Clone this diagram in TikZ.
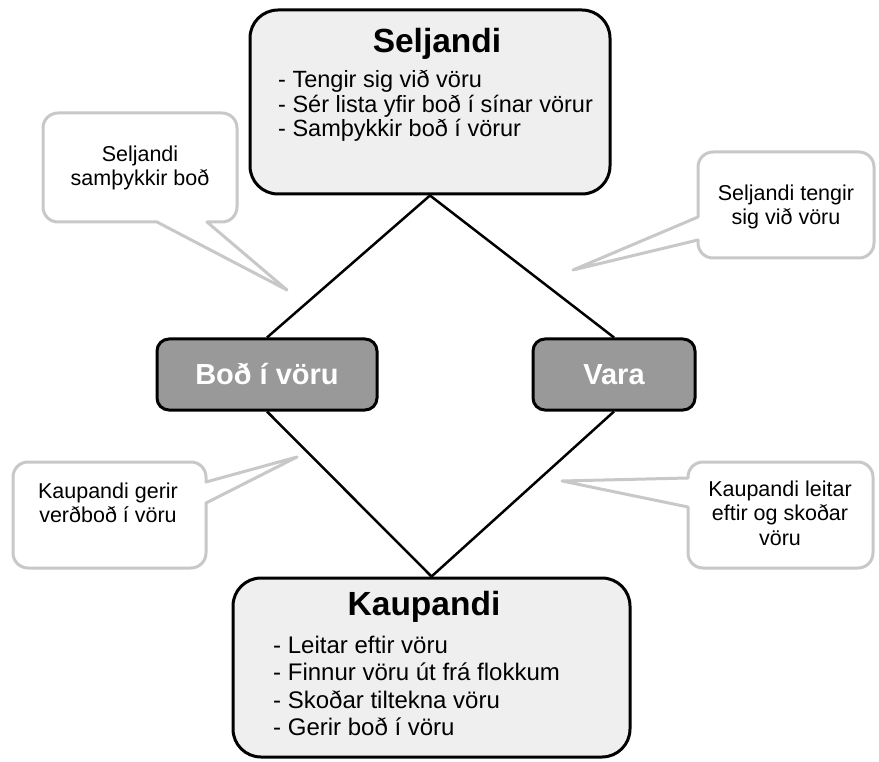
\documentclass[tikz,border=0pt]{standalone}
\usepackage{fontspec}
\setmainfont{Liberation Sans}
\definecolor{boxfill}{HTML}{EFEFEF}
\definecolor{midfill}{HTML}{999999}
\definecolor{calloutline}{HTML}{C8C8C8}
\begin{document}
\begin{tikzpicture}[x=1pt,y=-1pt,
  bigbox/.style={draw=black,line width=3pt,fill=boxfill,rounded corners=28pt,inner sep=0pt},
  midbox/.style={draw=black,line width=3pt,fill=midfill,rounded corners=12pt,inner sep=0pt,
     text=white,font=\fontsize{29}{34}\selectfont\bfseries},
  callout/.style={draw=calloutline,line width=3pt,fill=white,line join=round},
  link/.style={draw=black,line width=2.5pt},
  titletext/.style={anchor=base,inner sep=0pt,font=\fontsize{33.5}{40}\selectfont\bfseries},
  sbullet/.style={anchor=base west,inner sep=0pt,font=\fontsize{23.5}{27}\selectfont},
  kbullet/.style={anchor=base west,inner sep=0pt,font=\fontsize{24}{28}\selectfont},
  ctext/.style={align=center,inner sep=0pt,font=\fontsize{21.5}{24.5}\selectfont}
]
\useasboundingbox (0,0) rectangle (879,762);

% callouts
\coordinate (t1) at (287,290);
\coordinate (t2) at (573,270);
\coordinate (t3) at (297,457);
\coordinate (t4) at (562,481);
\draw[callout] (157,222) [rounded corners=15pt] -- (43,222) -- (43,113) -- (237,113) -- (237,222) [sharp corners] -- (207,222) -- (t1) -- cycle;
\draw[callout] (698,240) [rounded corners=15pt] -- (698,258) -- (874,258) -- (874,152) -- (698,152) [sharp corners] -- (698,217) -- (t2) -- cycle;
\draw[callout] (206,503) [rounded corners=15pt] -- (206,568) -- (13,568) -- (13,462) -- (206,462) [sharp corners] -- (206,482) -- (t3) -- cycle;
\draw[callout] (688,478) [rounded corners=15pt] -- (688,462) -- (873,462) -- (873,568) -- (688,568) [sharp corners] -- (688,507) -- (t4) -- cycle;

\node[ctext] (c1) at (140,168) {Seljandi\\samþykkir boð};
\node[ctext] (c2) at (786,207) {Seljandi tengir\\sig við vöru};
\node[ctext] (c3) at (108,503) {Kaupandi gerir\\verðboð í vöru};
\node[ctext] (c4) at (780,513) {Kaupandi leitar\\eftir og skoðar\\vöru};

% main boxes
\node[bigbox,minimum width=360pt,minimum height=184pt] (S) at (430,102) {};
\node[bigbox,minimum width=397pt,minimum height=179pt] (K) at (431.5,667.5) {};
\node[midbox,minimum width=220pt,minimum height=71pt] (B) at (267,374.5) {Boð í vöru};
\node[midbox,minimum width=162pt,minimum height=71pt] (V) at (614,374.5) {Vara};

% links
\draw[link] (S.south) -- (B.north);
\draw[link] (S.south) -- (V.north);
\draw[link] (B.south) -- (K.north);
\draw[link] (V.south) -- (K.north);

% Seljandi text
\node[titletext] (St) at (437,53) {Seljandi};
\node[sbullet] (s1) at (278,88) {- Tengir sig við vöru};
\node[sbullet] (s2) at (278,112.5) {- Sér lista yfir boð í sínar vörur};
\node[sbullet] (s3) at (278,137) {- Samþykkir boð í vörur};

% Kaupandi text
\node[titletext] (Kt) at (424,615) {Kaupandi};
\node[kbullet] (k1) at (273,653) {- Leitar eftir vöru};
\node[kbullet] (k2) at (273,680) {- Finnur vöru út frá flokkum};
\node[kbullet] (k3) at (273,708) {- Skoðar tiltekna vöru};
\node[kbullet] (k4) at (273,735) {- Gerir boð í vöru};
\end{tikzpicture}
\end{document}
